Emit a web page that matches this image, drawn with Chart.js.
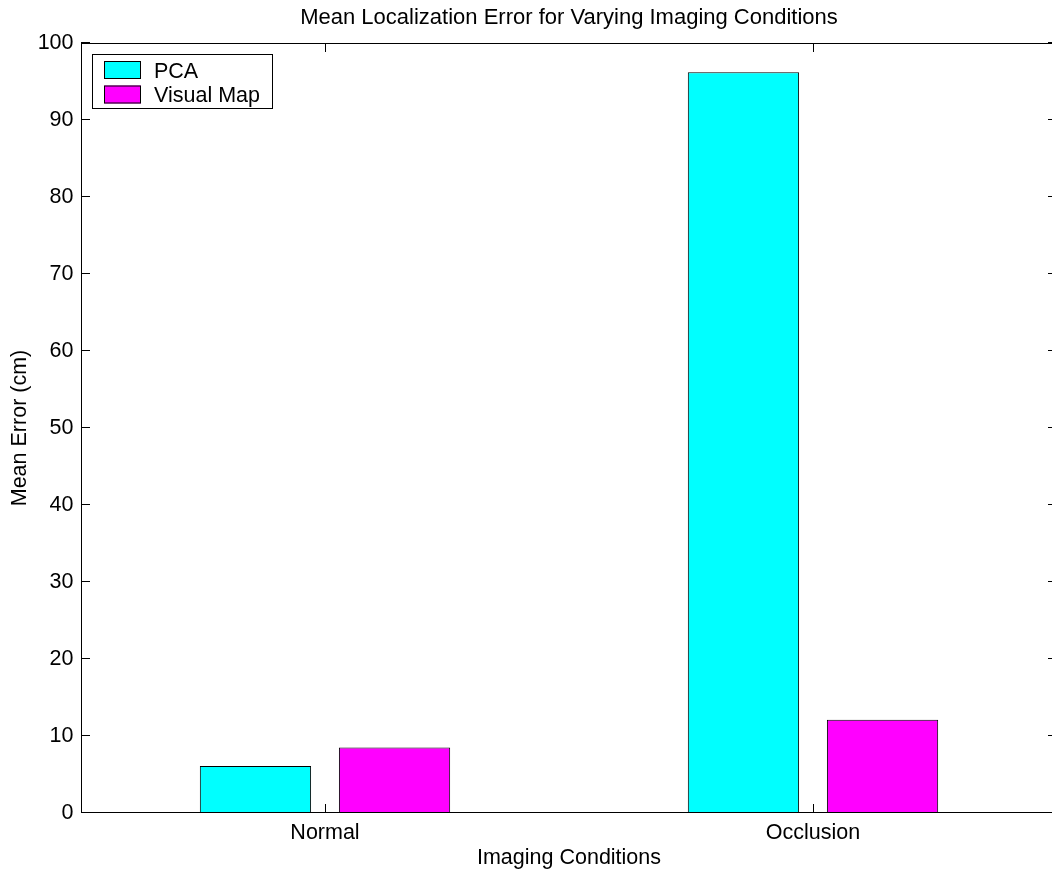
<!DOCTYPE html>
<html>
<head>
<meta charset="utf-8">
<script src="https://cdn.jsdelivr.net/npm/chart.js@4.4.1/dist/chart.umd.min.js"></script>
<style>
  html, body { margin: 0; padding: 0; overflow: hidden; background: #fff; }
  canvas { display: block; }
</style>
</head>
<body>
<canvas id="chart" width="1080" height="871"></canvas>
<script>
// Data
const categories = ['Normal', 'Occlusion'];
const seriesNames = ['PCA', 'Visual Map'];
const pcaValues = [6.1, 96.2];
const visualMapValues = [8.5, 12.1];
const yTickValues = [0, 10, 20, 30, 40, 50, 60, 70, 80, 90, 100];

const chartTitle = 'Mean Localization Error for Varying Imaging Conditions';
const xTitle = 'Imaging Conditions';
const yTitle = 'Mean Error (cm)';

const FONT_FAMILY = "'Liberation Sans', Helvetica, Arial, sans-serif";
const baseFont = { family: FONT_FAMILY, size: 21.5 };

// Axes box with inward tick marks on all four sides, plus an inset legend.
const framePlugin = {
  id: 'frame',
  afterDatasetsDraw(chart) {
    const { ctx, chartArea: a, scales } = chart;
    const tickLen = 9;
    ctx.save();
    ctx.strokeStyle = '#000';
    ctx.lineWidth = 1;

    // frame
    ctx.strokeRect(a.left + 0.5, a.top + 0.5, a.right - a.left - 1, a.bottom - a.top - 1);

    // y ticks, left and right
    ctx.beginPath();
    yTickValues.forEach(v => {
      const y = Math.round(scales.y.getPixelForValue(v)) - 0.5;
      ctx.moveTo(a.left, y); ctx.lineTo(a.left + tickLen, y);
      ctx.moveTo(a.right, y); ctx.lineTo(a.right - tickLen, y);
    });
    // x ticks, bottom and top
    categories.forEach((c, i) => {
      const x = Math.round(scales.x.getPixelForValue(i)) + 0.5;
      ctx.moveTo(x, a.bottom); ctx.lineTo(x, a.bottom - tickLen);
      ctx.moveTo(x, a.top); ctx.lineTo(x, a.top + tickLen);
    });
    ctx.stroke();

    // legend
    const lx = a.left + 11, ly = a.top + 11;
    const lw = 181, lh = 55;
    ctx.fillStyle = '#fff';
    ctx.fillRect(lx, ly, lw, lh);
    ctx.strokeRect(lx + 0.5, ly + 0.5, lw - 1, lh - 1);
    ctx.font = `${baseFont.size}px ${FONT_FAMILY}`;
    ctx.textBaseline = 'alphabetic';
    ctx.textAlign = 'left';
    chart.data.datasets.forEach((ds, i) => {
      const cy = ly + 16 + i * 24.5;
      ctx.fillStyle = ds.backgroundColor;
      ctx.fillRect(lx + 12, cy - 9, 37, 18);
      ctx.strokeStyle = '#000';
      ctx.strokeRect(lx + 12.5, cy - 8.5, 36, 17);
      ctx.fillStyle = '#000';
      ctx.fillText(ds.label, lx + 62, cy + 7.7);
    });
    ctx.restore();
  }
};

new Chart(document.getElementById('chart'), {
  type: 'bar',
  data: {
    labels: categories,
    datasets: [
      {
        label: seriesNames[0],
        data: pcaValues,
        backgroundColor: '#00ffff',
        borderColor: '#000',
        borderWidth: 1,
        categoryPercentage: 0.57,
        barPercentage: 0.8
      },
      {
        label: seriesNames[1],
        data: visualMapValues,
        backgroundColor: '#ff00ff',
        borderColor: '#000',
        borderWidth: 1,
        categoryPercentage: 0.57,
        barPercentage: 0.8
      }
    ]
  },
  options: {
    responsive: false,
    devicePixelRatio: 1,
    animation: false,
    layout: { padding: { left: 0, right: 1080 - 1057, top: 0, bottom: 0 } },
    plugins: {
      legend: { display: false },
      tooltip: { enabled: false },
      title: {
        display: true,
        text: chartTitle,
        color: '#000',
        font: { family: FONT_FAMILY, size: 22, weight: 'normal' },
        fullSize: false,
        padding: { top: 5, bottom: 11.6 }
      }
    },
    scales: {
      x: {
        grid: { display: false, drawTicks: false },
        border: { display: false },
        ticks: { color: '#000', font: baseFont, padding: 7, maxRotation: 0 },
        title: {
          display: true,
          text: xTitle,
          color: '#000',
          font: baseFont,
          padding: { top: 0, bottom: 0.5 }
        },
        afterFit(scale) { scale.height = 58; }
      },
      y: {
        min: 0,
        max: 100,
        grid: { display: false, drawTicks: false },
        border: { display: false },
        ticks: { stepSize: 10, color: '#000', font: baseFont, padding: 7.5 },
        title: {
          display: true,
          text: yTitle,
          color: '#000',
          font: baseFont,
          padding: { top: 7.6, bottom: 0 }
        },
        afterFit(scale) { scale.width = 81; }
      }
    }
  },
  plugins: [framePlugin]
});
</script>
</body>
</html>
